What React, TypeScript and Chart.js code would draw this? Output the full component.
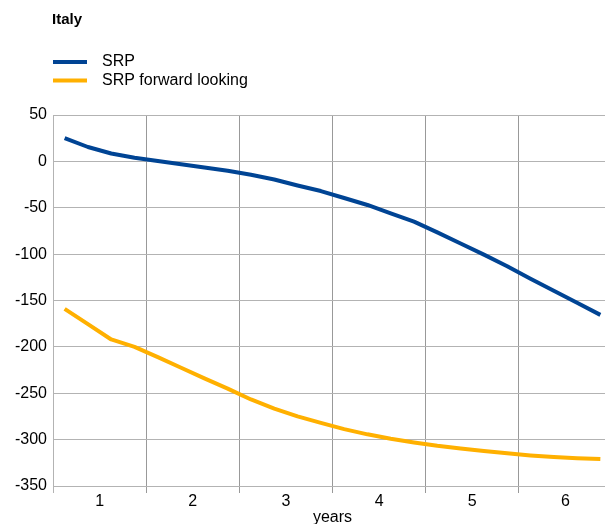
import React, { useEffect, useRef } from "react";
import { Chart, registerables } from "chart.js";

Chart.register(...registerables);

const chartTitle = "Italy";
const xAxisTitle = "years";
const yearLabels = ["1", "2", "3", "4", "5", "6"];
const quartersPerYear = 4;
const quarters = [1, 2, 3, 4, 5, 6, 7, 8, 9, 10, 11, 12, 13, 14, 15, 16, 17, 18, 19, 20, 21, 22, 23, 24];

const srpLabel = "SRP";
const srpValues = [
  25, 15.5, 8.5, 4, 0.5, -3, -6.5, -10.2,
  -14.5, -19.5, -26, -32, -39.5, -47, -56, -65,
  -76.5, -88.5, -100.5, -113, -126.5, -139.5, -152.5, -165.5,
];

const srpForwardLabel = "SRP forward looking";
const srpForwardValues = [
  -159, -175.5, -192, -200, -211, -222.5, -234, -245,
  -256.7, -266.5, -275, -282, -288.7, -294.3, -299, -303,
  -306.6, -309.6, -312.2, -314.8, -317, -318.7, -320, -321,
];

const yMin = -350;
const yMax = 50;
const yStep = 50;

const FONT = '"Liberation Sans", Arial, sans-serif';
const BLUE = "#004494";
const ORANGE = "#ffb000";
const H_GRID = "#b3b3b3";
const V_GRID = "#999999";

const headerPlugin = {
  id: "headerLegend",
  afterDraw(chart: any) {
    const ctx = chart.ctx;
    ctx.save();
    ctx.fillStyle = "#000";
    ctx.font = `bold 15px ${FONT}`;
    ctx.textBaseline = "alphabetic";
    ctx.textAlign = "left";
    ctx.fillText(chartTitle, 52, 24);
    ctx.font = `16px ${FONT}`;
    ctx.textBaseline = "middle";
    chart.data.datasets.forEach((ds: any, i: number) => {
      const y = 62 + i * 18.5;
      ctx.strokeStyle = ds.borderColor;
      ctx.lineWidth = 4;
      ctx.beginPath();
      ctx.moveTo(53, y);
      ctx.lineTo(87, y);
      ctx.stroke();
      ctx.fillText(ds.label, 102, y);
    });
    ctx.restore();
  },
};

export default function App() {
  const canvasRef = useRef<HTMLCanvasElement | null>(null);

  useEffect(() => {
    const canvas = canvasRef.current;
    if (!canvas) return;
    const toPoints = (vals: number[]) =>
      vals.map((v, i) => ({ x: quarters[i] - 0.5, y: v }));

    const chart = new Chart(canvas, {
      type: "line",
      data: {
        datasets: [
          {
            label: srpLabel,
            data: toPoints(srpValues),
            borderColor: BLUE,
            backgroundColor: BLUE,
            borderWidth: 4,
            pointRadius: 0,
            tension: 0,
            borderJoinStyle: "round",
            borderCapStyle: "butt",
          },
          {
            label: srpForwardLabel,
            data: toPoints(srpForwardValues),
            borderColor: ORANGE,
            backgroundColor: ORANGE,
            borderWidth: 4,
            pointRadius: 0,
            tension: 0,
            borderJoinStyle: "round",
            borderCapStyle: "butt",
          },
        ],
      },
      options: {
        animation: false,
        responsive: false,
        devicePixelRatio: 1,
        layout: { padding: { top: 115, left: 13, right: 2, bottom: 0 } },
        plugins: {
          legend: { display: false },
          title: { display: false },
          tooltip: { enabled: false },
        },
        scales: {
          x: {
            type: "linear",
            min: 0,
            max: quarters.length,
            afterBuildTicks: (axis: any) => {
              const t: any[] = [];
              for (let k = 0; k <= yearLabels.length; k++) {
                t.push({ value: k * quartersPerYear });
                if (k < yearLabels.length) t.push({ value: k * quartersPerYear + quartersPerYear / 2 });
              }
              axis.ticks = t;
            },
            afterFit: (s: any) => {
              s.height = 40;
            },
            ticks: {
              autoSkip: false,
              maxRotation: 0,
              padding: 1,
              color: "#000",
              font: { family: FONT, size: 16, lineHeight: 1 },
              callback: (value: any) => {
                const v = Number(value);
                if (v % quartersPerYear === quartersPerYear / 2) {
                  return yearLabels[(v - quartersPerYear / 2) / quartersPerYear];
                }
                return "";
              },
            },
            grid: {
              tickLength: 7,
              lineWidth: 1,
              color: (ctx: any) => {
                const v = ctx.tick ? ctx.tick.value : -1;
                if (v % quartersPerYear !== 0) return "rgba(0,0,0,0)";
                return v === 0 ? H_GRID : V_GRID;
              },
            },
            border: { display: true, color: H_GRID },
            title: {
              display: true,
              text: xAxisTitle,
              color: "#000",
              font: { family: FONT, size: 16, lineHeight: 1 },
              padding: { top: 0, bottom: 0 },
            },
          },
          y: {
            type: "linear",
            min: yMin,
            max: yMax,
            afterFit: (s: any) => {
              s.width = 40;
            },
            ticks: {
              stepSize: yStep,
              padding: 6,
              color: "#000",
              font: { family: FONT, size: 16 },
            },
            grid: { color: H_GRID, lineWidth: 1, drawTicks: false },
            border: { display: true, color: H_GRID },
          },
        },
      },
      plugins: [headerPlugin],
    } as any);

    return () => chart.destroy();
  }, []);

  return (
    <div
      style={{
        position: "fixed",
        left: 0,
        top: 0,
        width: 605,
        height: 524,
        overflow: "hidden",
        background: "#fff",
      }}
    >
      <canvas ref={canvasRef} width={614} height={526} style={{ display: "block" }} />
    </div>
  );
}
